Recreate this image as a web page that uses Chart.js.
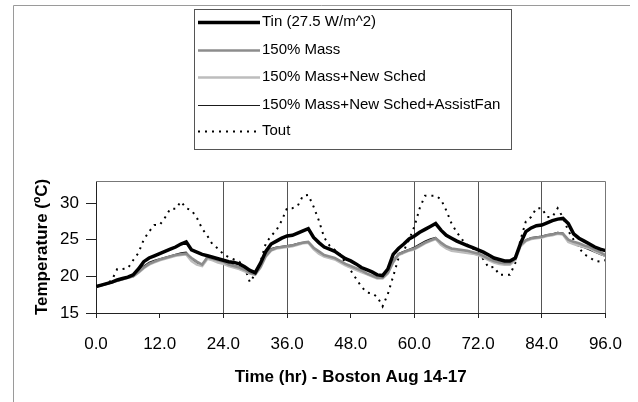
<!DOCTYPE html>
<html>
<head>
<meta charset="utf-8">
<script src="https://cdn.jsdelivr.net/npm/chart.js@4"></script>
<style>
html,body{margin:0;padding:0;background:#fff;}
#wrap{position:relative;width:638px;height:402px;}
</style>
</head>
<body>
<div id="wrap"><canvas id="c" width="638" height="402"></canvas></div>
<script>
const hours = [0,1,2,3,4,5,6,7,8,9,10,11,12,13,14,15,16,17,18,19,20,21,22,23,24,25,26,27,28,29,30,31,32,33,34,35,36,37,38,39,40,41,42,43,44,45,46,47,48,49,50,51,52,53,54,55,56,57,58,59,60,61,62,63,64,65,66,67,68,69,70,71,72,73,74,75,76,77,78,79,80,81,82,83,84,85,86,87,88,89,90,91,92,93,94,95,96];

const seriesNames = ["Tin (27.5 W/m^2)", "150% Mass", "150% Mass+New Sched", "150% Mass+New Sched+AssistFan", "Tout"];

const tin = [18.6,18.8,19.0,19.2,19.5,19.7,19.9,20.2,21.0,22.0,
  22.5,22.8,23.1,23.4,23.7,24.0,24.4,24.7,23.6,23.3,
  23.0,22.8,22.6,22.4,22.2,22.0,21.9,21.7,21.3,20.8,
  20.5,21.8,23.4,24.4,24.8,25.2,25.5,25.6,25.9,26.2,
  26.5,25.3,24.6,24.0,23.7,23.4,22.9,22.4,22.1,21.7,
  21.2,20.9,20.6,20.2,20.1,21.0,23.0,23.8,24.4,25.1,
  25.5,26.0,26.4,26.8,27.2,26.3,25.6,25.2,24.8,24.5,
  24.2,23.9,23.6,23.3,22.9,22.5,22.3,22.1,22.1,22.5,
  24.5,26.1,26.6,26.9,27.0,27.3,27.6,27.8,27.9,27.2,
  25.8,25.2,24.8,24.4,24.0,23.7,23.5];

const mass150 = [18.6,18.8,19.0,19.2,19.4,19.6,19.8,20.0,20.6,21.2,
  21.7,22.0,22.3,22.5,22.7,22.9,23.0,23.1,22.5,22.0,
  21.6,22.6,22.4,22.2,22.0,21.6,21.4,21.2,20.9,20.5,
  20.3,21.3,22.8,23.6,23.9,24.0,24.1,24.2,24.4,24.6,
  24.7,23.9,23.4,22.9,22.7,22.5,22.1,21.7,21.4,21.1,
  20.8,20.4,20.1,19.8,19.8,20.5,22.0,23.0,23.3,23.6,
  23.8,24.2,24.6,24.9,25.2,24.6,24.1,23.8,23.7,23.6,
  23.5,23.3,23.1,22.8,22.4,22.1,21.9,21.8,21.8,22.4,
  24.3,24.9,25.2,25.3,25.4,25.6,25.7,25.9,25.8,25.0,
  24.7,24.5,24.2,24.0,23.6,23.3,22.9];

const massSched = [18.6,18.8,19.0,19.2,19.4,19.6,19.8,20.0,20.5,21.1,
  21.6,21.9,22.2,22.4,22.6,22.8,22.9,23.0,22.1,21.6,
  21.4,22.4,22.2,21.9,21.7,21.4,21.2,21.0,20.7,20.4,
  20.2,21.2,22.7,23.5,23.8,23.9,24.0,24.1,24.3,24.5,
  24.6,23.7,23.1,22.7,22.5,22.3,21.9,21.5,21.2,20.9,
  20.6,20.3,20.0,19.7,19.7,20.4,21.9,22.9,23.2,23.5,
  23.7,24.1,24.5,24.8,25.1,24.3,23.8,23.5,23.4,23.3,
  23.2,23.1,22.9,22.6,22.2,21.9,21.7,21.6,21.6,22.2,
  24.1,24.8,25.1,25.2,25.3,25.5,25.6,25.8,25.7,24.7,
  24.4,24.2,24.0,23.8,23.4,23.1,22.8];

const massSchedFan = [18.6,18.8,19.0,19.2,19.5,19.7,19.9,20.1,20.8,21.4,
  21.9,22.2,22.4,22.6,22.8,23.0,23.2,23.3,22.4,21.8,
  21.4,22.8,22.5,22.2,22.0,21.7,21.5,21.3,21.0,20.6,
  20.3,21.5,23.0,23.8,24.0,24.1,24.2,24.3,24.5,24.6,
  24.7,23.8,23.2,22.9,22.6,22.4,22.0,21.6,21.3,21.0,
  20.6,20.3,20.0,19.8,19.9,20.7,22.2,23.1,23.4,23.7,
  24.0,24.4,24.8,25.1,25.3,24.4,23.8,23.6,23.5,23.4,
  23.3,23.1,22.9,22.6,22.3,22.0,21.8,21.7,21.8,22.4,
  24.3,25.0,25.3,25.4,25.5,25.7,25.8,26.0,25.9,24.8,
  24.4,24.1,23.9,23.6,23.3,23.0,22.7];

const tout = [18.6,18.8,19.0,19.5,21.0,21.0,21.1,22.2,23.2,25.0,
  26.1,27.0,27.0,28.0,29.2,29.2,30.2,29.3,29.0,28.0,
  26.5,25.5,24.3,23.8,23.0,22.6,22.3,22.0,21.2,19.2,
  20.3,22.0,24.5,25.5,26.3,27.6,29.3,29.3,29.6,31.0,
  31.1,29.5,27.6,25.3,24.2,23.6,23.0,21.8,20.8,19.7,
  18.6,17.8,17.7,17.2,15.9,17.6,20.0,22.5,23.5,25.0,
  26.8,29.3,31.0,31.0,31.0,30.5,29.0,27.2,26.0,25.0,
  24.3,23.8,23.2,22.3,21.2,21.3,20.2,20.2,20.2,21.8,
  25.0,27.5,28.1,29.3,29.3,28.1,28.1,29.3,28.0,26.2,
  25.0,23.9,23.0,22.6,22.1,22.0,22.2];

const xTicks = [0,12,24,36,48,60,72,84,96];
const yTicks = [15,20,25,30];
const xGridShown = [24,36,60,72,84];

const FONT = "Arial, 'Liberation Sans', sans-serif";

function pts(arr){ return arr.map((v,i)=>({x:hours[i], y:v})); }

const styles = [
  {color:'#000000', width:3.5, dash:[]},
  {color:'#8c8c8c', width:2.6, dash:[]},
  {color:'#bdbdbd', width:2.6, dash:[]},
  {color:'#1a1a1a', width:1.2, dash:[]},
  {color:'#000000', width:2, dash:[2,5]}
];
const allData = [tin, mass150, massSched, massSchedFan, tout];

const datasets = allData.map((arr,i)=>({
  label: seriesNames[i],
  data: pts(arr),
  borderColor: styles[i].color,
  borderWidth: styles[i].width,
  borderDash: styles[i].dash,
  pointRadius: 0,
  tension: 0,
  fill: false,
  order: i
}));

const framePlugin = {
  id:'frame',
  beforeDraw(chart){
    const ctx = chart.ctx;
    ctx.save();
    ctx.fillStyle = '#fff';
    ctx.fillRect(0,0,chart.width,chart.height);
    ctx.restore();
  },
  afterDraw(chart){
    const ctx = chart.ctx;
    const a = chart.chartArea;
    ctx.save();
    ctx.strokeStyle = '#9a9a9a';
    ctx.lineWidth = 1;
    ctx.beginPath();
    ctx.moveTo(13.5, 402);
    ctx.lineTo(13.5, 5.5);
    ctx.lineTo(630, 5.5);
    ctx.stroke();
    ctx.strokeStyle = '#777';
    ctx.beginPath();
    ctx.moveTo(a.left, a.top + 0.5);
    ctx.lineTo(Math.round(a.right) + 0.5, a.top + 0.5);
    ctx.lineTo(Math.round(a.right) + 0.5, a.bottom);
    ctx.stroke();
    const bx = 194.5, by = 9.5, bw = 317, bh = 140;
    ctx.fillStyle = '#fff';
    ctx.fillRect(bx, by, bw, bh);
    ctx.strokeStyle = '#555';
    ctx.strokeRect(bx, by, bw, bh);
    const rows = [22, 50, 77, 105, 131];
    ctx.font = '15px ' + FONT;
    ctx.textBaseline = 'middle';
    ctx.textAlign = 'left';
    chart.data.datasets.forEach((ds,i)=>{
      const y = rows[i] + 0.5;
      ctx.strokeStyle = ds.borderColor;
      ctx.lineWidth = ds.borderWidth;
      ctx.setLineDash(ds.borderDash || []);
      ctx.beginPath();
      ctx.moveTo(198, y);
      ctx.lineTo(260, y);
      ctx.stroke();
      ctx.setLineDash([]);
      ctx.fillStyle = '#000';
      ctx.fillText(ds.label, 262, rows[i]);
    });
    ctx.restore();
  }
};

new Chart(document.getElementById('c'), {
  type:'line',
  data:{ datasets },
  options:{
    responsive:false,
    animation:false,
    events:[],
    layout:{ padding:{ top:181, left:0, right:31, bottom:0 } },
    plugins:{ legend:{display:false}, tooltip:{enabled:false} },
    scales:{
      x:{
        type:'linear',
        min:0, max:96,
        afterBuildTicks(s){ s.ticks = xTicks.map(v=>({value:v})); },
        afterFit(s){ s.height = 89; },
        ticks:{
          callback:(v)=>Number(v).toFixed(1),
          font:{family:FONT, size:17},
          color:'#000',
          padding:16,
          maxRotation:0,
          autoSkip:false
        },
        grid:{
          drawOnChartArea:true,
          color:(c)=> (c.tick && xGridShown.includes(c.tick.value)) ? '#555' : 'rgba(0,0,0,0)',
          tickColor:'#222',
          tickLength:5,
          lineWidth:1
        },
        border:{ display:true, color:'#222', width:1 },
        title:{
          display:true,
          text:'Time (hr) - Boston Aug 14-17',
          font:{family:FONT, size:17, weight:'bold'},
          color:'#000',
          padding:{top:0, bottom:14}
        }
      },
      y:{
        type:'linear',
        min:15, max:33,
        afterBuildTicks(s){ s.ticks = yTicks.map(v=>({value:v})); },
        afterFit(s){ s.width = 96; },
        ticks:{
          font:{family:FONT, size:17},
          color:'#000',
          padding:7
        },
        grid:{
          drawOnChartArea:false,
          tickColor:'#222',
          tickLength:10
        },
        border:{ display:true, color:'#222', width:1 },
        title:{
          display:true,
          text:'Temperature (ºC)',
          font:{family:FONT, size:17, weight:'bold'},
          color:'#000',
          padding:{top:32, bottom:0}
        }
      }
    }
  },
  plugins:[framePlugin]
});
</script>
</body>
</html>
